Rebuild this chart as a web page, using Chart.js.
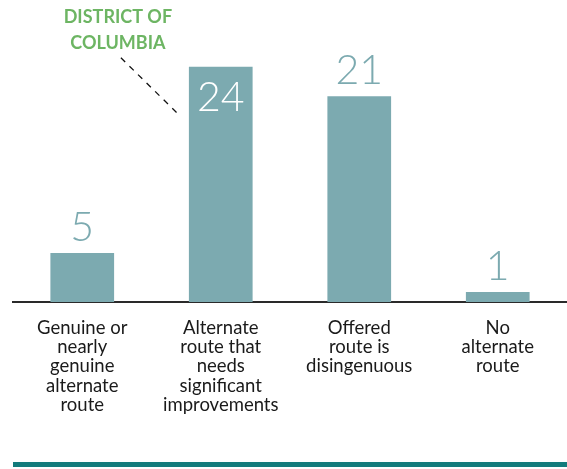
<!DOCTYPE html>
<html>
<head>
<meta charset="utf-8">
<script src="https://cdn.jsdelivr.net/npm/chart.js@4/dist/chart.umd.min.js"></script>
<style>
  html, body { margin: 0; padding: 0; background: #fff; }
  #wrap { width: 567px; height: 469px; position: relative; }
</style>
</head>
<body>
<div id="wrap"><canvas id="chart"></canvas></div>
<script>
// chart data
const categories = [
    ['Genuine or', 'nearly', 'genuine', 'alternate', 'route'],
    ['Alternate', 'route that', 'needs', 'significant', 'improvements'],
    ['Offered', 'route is', 'disingenuous'],
    ['No', 'alternate', 'route']
];
const counts = [5, 24, 21, 1];
const insideLabel = [false, true, false, false];
const calloutText = ['DISTRICT OF', 'COLUMBIA'];
const calloutIndex = 1;

const barColor = '#7caab0';
const calloutColor = '#6db563';

// draws the value numbers, the callout and the bottom rule
const decorations = {
    id: 'decorations',
    afterDatasetsDraw(chart) {
        const ctx = chart.ctx;
        const bars = chart.getDatasetMeta(0).data;
        ctx.save();
        ctx.font = '300 41px Lato';
        ctx.textAlign = 'center';
        bars.forEach((bar, i) => {
            if (insideLabel[i]) {
                ctx.fillStyle = '#ffffff';
                ctx.textBaseline = 'top';
                ctx.fillText(String(counts[i]), bar.x, bar.y + 11);
            } else {
                ctx.fillStyle = barColor;
                ctx.textBaseline = 'alphabetic';
                ctx.fillText(String(counts[i]), bar.x, bar.y - 12);
            }
        });

        // callout for the DC bar
        const cb = bars[calloutIndex];
        const left = cb.x - cb.width / 2;
        ctx.strokeStyle = '#111';
        ctx.lineWidth = 1.3;
        ctx.setLineDash([6, 6]);
        ctx.beginPath();
        ctx.moveTo(left - 68, cb.y - 9);
        ctx.lineTo(left - 12, cb.y + 46);
        ctx.stroke();
        ctx.setLineDash([]);

        ctx.fillStyle = calloutColor;
        ctx.font = 'bold 18px Lato';
        ctx.textBaseline = 'alphabetic';
        ctx.fillText(calloutText[0], left - 71, 23);
        ctx.fillText(calloutText[1], left - 71, 49);

        // teal rule at the bottom
        ctx.fillStyle = '#137b7c';
        ctx.fillRect(chart.chartArea.left, chart.height - 7, chart.width - chart.chartArea.left, 5);
        ctx.restore();
    }
};

const chart = new Chart(document.getElementById('chart'), {
    type: 'bar',
    data: {
        labels: categories,
        datasets: [{
            data: counts,
            backgroundColor: barColor,
            borderWidth: 0,
            categoryPercentage: 1,
            barPercentage: 0.46
        }]
    },
    options: {
        responsive: true,
        maintainAspectRatio: false,
        animation: false,
        layout: { padding: { top: 8, left: 13, right: 0, bottom: 38 } },
        scales: {
            x: {
                grid: { display: false, drawTicks: false },
                border: { color: '#2a2a2a', width: 2 },
                ticks: {
                    color: '#1a1a1a',
                    font: { family: 'Lato', size: 18.5, lineHeight: 1.05 },
                    padding: 16,
                    maxRotation: 0,
                    autoSkip: false
                }
            },
            y: {
                display: false,
                min: 0,
                max: 30
            }
        },
        plugins: {
            legend: { display: false },
            tooltip: { enabled: false }
        }
    },
    plugins: [decorations]
});
</script>
</body>
</html>
